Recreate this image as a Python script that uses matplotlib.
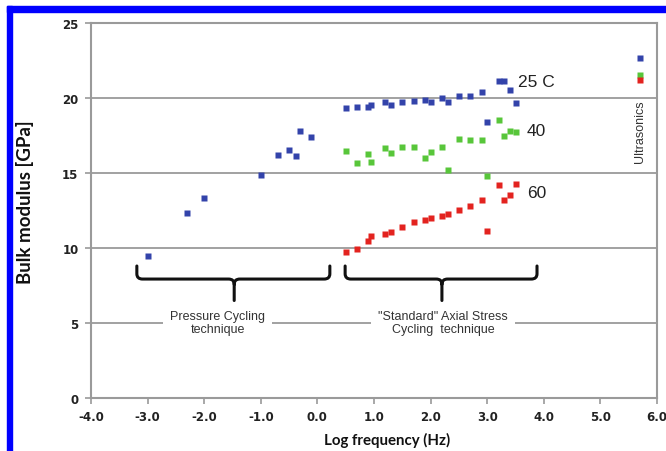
import matplotlib
matplotlib.use("Agg")
import matplotlib.pyplot as plt
from matplotlib.patches import Rectangle, PathPatch
from matplotlib.path import Path

# ---- data ----
pc_freq = [-3.0, -2.3, -2.0, -1.0, -0.7, -0.5, -0.38, -0.3, -0.12]
pc_k25 = [9.5, 12.33, 13.33, 14.9, 16.2, 16.55, 16.13, 17.82, 17.42]

std_freq = [0.5, 0.7, 0.9, 0.95, 1.2, 1.3, 1.5, 1.7, 1.9, 2.0,
            2.2, 2.3, 2.5, 2.7, 2.9, 3.0, 3.2, 3.3, 3.4, 3.5]
std_k25 = [19.31, 19.42, 19.42, 19.56, 19.76, 19.56, 19.71, 19.82, 19.89, 19.76,
           20.0, 19.71, 20.11, 20.11, 20.38, 18.42, 21.16, 21.16, 20.53, 19.64]
std_k40 = [16.49, 15.67, 16.27, 15.71, 16.64, 16.31, 16.71, 16.71, 16.0, 16.38,
           16.71, 15.22, 17.27, 17.2, 17.22, 14.78, 18.53, 17.44, 17.82, 17.76]
std_k60 = [9.76, 9.93, 10.49, 10.82, 10.93, 11.04, 11.38, 11.71, 11.89, 11.98,
           12.11, 12.27, 12.56, 12.78, 13.22, 11.16, 14.22, 13.2, 13.53, 14.24]

ultra_freq = [5.7]
ultra_k25 = [22.64]
ultra_k40 = [21.55]
ultra_k60 = [21.2]

x_ticks = [-4.0, -3.0, -2.0, -1.0, 0.0, 1.0, 2.0, 3.0, 4.0, 5.0, 6.0]
y_ticks = [0, 5, 10, 15, 20, 25]

BLUE = "#3343aa"
GREEN = "#58c63a"
RED = "#e3231f"

fig = plt.figure(figsize=(6.66, 4.52), dpi=100)
fig.patch.set_facecolor("white")
ax = fig.add_axes([91 / 666, (452 - 399) / 452, 566 / 666, 375 / 452])

# blue frame (left and top)
fig.patches.append(Rectangle((7 / 666, 0), 5 / 666, (452 - 7) / 452,
                             transform=fig.transFigure, color="#0000ff", zorder=0))
fig.patches.append(Rectangle((7 / 666, (452 - 13) / 452), (666 - 7) / 666, 6 / 452,
                             transform=fig.transFigure, color="#0000ff", zorder=0))

ax.set_xlim(-4, 6)
ax.set_ylim(0, 25)
for g in [5, 10, 15, 20]:
    ax.axhline(g, color="#9a9a9a", lw=1.3, zorder=1)

ms = 5
ax.plot(pc_freq, pc_k25, "s", color=BLUE, ms=ms, mec="none", zorder=3)
ax.plot(std_freq, std_k25, "s", color=BLUE, ms=ms, mec="none", zorder=3)
ax.plot(std_freq, std_k40, "s", color=GREEN, ms=ms, mec="none", zorder=3)
ax.plot(std_freq, std_k60, "s", color=RED, ms=ms, mec="none", zorder=3)
ax.plot(ultra_freq, ultra_k25, "s", color=BLUE, ms=ms, mec="none", zorder=3)
ax.plot(ultra_freq, ultra_k40, "s", color=GREEN, ms=ms, mec="none", zorder=3)
ax.plot(ultra_freq, ultra_k60, "s", color=RED, ms=ms, mec="none", zorder=4)

# series labels
lab_font = dict(family="Liberation Sans", color="#222222", fontsize=12.5, va="center", ha="left")
ax.text(3.54, 21.1, "25 C", **lab_font)
ax.text(3.70, 17.8, "40", **lab_font)
ax.text(3.70, 13.7, "60", **lab_font)
ax.text(5.70, 17.8, "Ultrasonics", rotation=90, family="Liberation Sans",
        color="#333333", fontsize=9, ha="center", va="center")

# braces with rounded joints
def brace(x0, x1, xm, ytop=8.8, ybot=7.93, ystem=6.5, rx=0.1, ry=0.35):
    verts = [(x0, ytop), (x0, ybot + ry), (x0, ybot), (x0 + rx, ybot),
             (xm - rx, ybot), (xm, ybot), (xm, ybot - ry), (xm, ystem),
             (xm, ybot - ry), (xm, ybot), (xm + rx, ybot),
             (x1 - rx, ybot), (x1, ybot), (x1, ybot + ry), (x1, ytop)]
    codes = [Path.MOVETO, Path.LINETO, Path.CURVE3, Path.CURVE3,
             Path.LINETO, Path.CURVE3, Path.CURVE3, Path.LINETO,
             Path.MOVETO, Path.CURVE3, Path.CURVE3,
             Path.LINETO, Path.CURVE3, Path.CURVE3, Path.LINETO]
    ax.add_patch(PathPatch(Path(verts, codes), facecolor="none", edgecolor="#111111",
                           lw=2.2, capstyle="round", joinstyle="round", zorder=2))

brace(-3.19, 0.22, -1.47)
brace(0.49, 3.88, 2.2)

box = dict(facecolor="white", edgecolor="none", pad=5)
ax.text(-1.76, 5.05, "Pressure Cycling\ntechnique", family="Liberation Sans",
        fontsize=9, color="#333333", ha="center", va="center", linespacing=1.15,
        bbox=box, zorder=2)
ax.text(2.22, 5.05, "\"Standard\" Axial Stress\nCycling  technique",
        family="Liberation Sans", fontsize=9, color="#333333", ha="center",
        va="center", linespacing=1.15, bbox=box, zorder=2)

# axes styling
for s in ax.spines.values():
    s.set_color("#9a9a9a")
    s.set_linewidth(1.5)
ax.set_xticks(x_ticks)
ax.set_xticklabels([f"{v:.1f}" for v in x_ticks])
ax.set_yticks(y_ticks)
ax.set_yticklabels([str(v) for v in y_ticks])
ax.tick_params(axis="both", direction="out", length=4, width=1.2, color="#9a9a9a",
               labelcolor="#222222", labelsize=8.5, pad=5)
for lab in ax.get_xticklabels() + ax.get_yticklabels():
    lab.set_fontweight("bold")
    lab.set_family("DejaVu Sans")

ax.set_xlabel("Log frequency (Hz)", family="Lato", fontweight="bold", fontsize=10.8,
              color="#111111")
ax.xaxis.set_label_coords((387 - 91) / 566, -(440 - 399) / 375)
ax.set_ylabel("Bulk modulus [GPa]", family="Lato", fontweight="bold", fontsize=13.5,
              color="#111111")
ax.yaxis.set_label_coords((25 - 91) / 566, (399 - 202) / 375)
ax.xaxis.label.set_va("center")
ax.yaxis.label.set_va("center")

fig.savefig("out.png", dpi=100)
